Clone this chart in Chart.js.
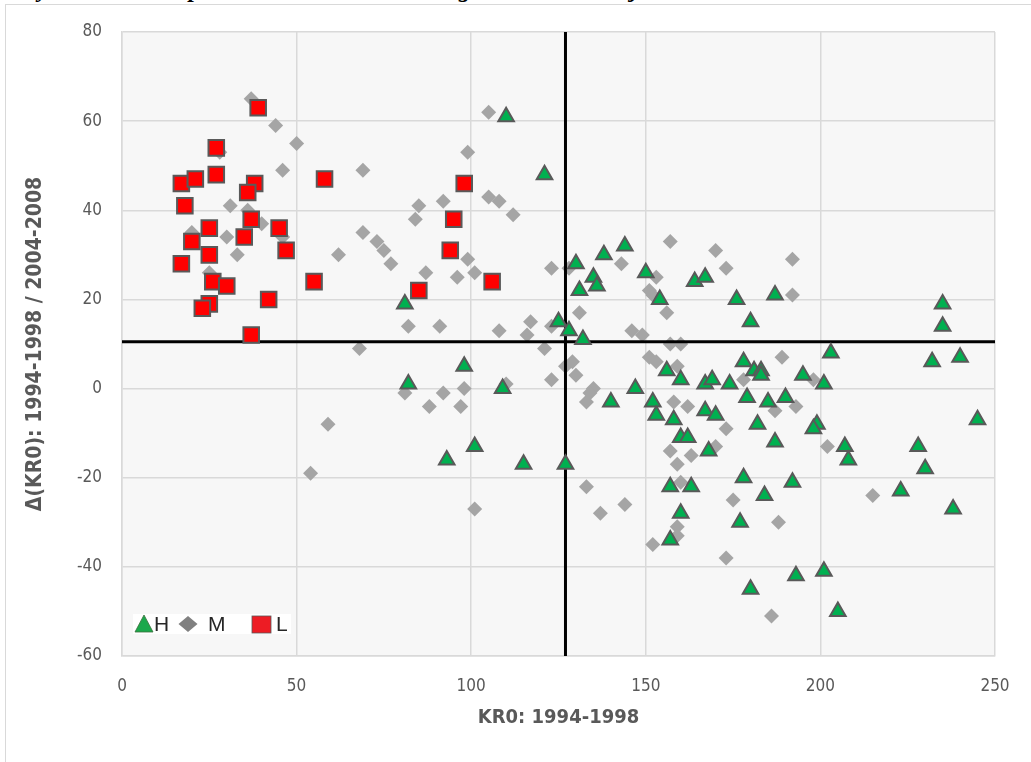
<!DOCTYPE html>
<html lang="en">
<head>
  <meta charset="UTF-8">
  <title>KR0 1994-1998 vs change 1994-1998 / 2004-2008</title>
  <script src="https://cdn.jsdelivr.net/npm/chart.js@4"></script>
  <style>
    body { margin: 0; width: 1031px; height: 762px; overflow: hidden; background: #fff; position: relative; }
    .frag { position: absolute; top: -23px; font: italic bold 24px/24px 'Liberation Serif', serif; color: #000; }
    #frame { position: absolute; left: 5px; top: 4px; width: 1100px; height: 800px; border: 1px solid #d9d9d9; background: #fff; }
    #wrap { position: absolute; left: 0; top: 0; width: 1031px; height: 762px; }
  </style>
</head>
<body>
  <!-- only the descenders of the caption above the chart are visible -->
  <span class="frag" style="left:38px">y</span>
  <span class="frag" style="left:189px">p</span>
  <span class="frag" style="left:459px">g</span>
  <span class="frag" style="left:631px">j</span>
  <div id="frame"></div>
  <div id="wrap"><canvas id="chart" width="1031" height="762"></canvas></div>

  <script>
    // x = KR0 1994-1998, y = change of KR0 between periods
    const hPoints = [
      [110,61],[121,48],[130,28],[138,30],[144,32],[135,25],[136,23],[131,22],[150,26],[154,20],
      [164,24],[167,25],[176,20],[180,15],[187,21],[81,19],[125,15],[128,13],[132,11],[98,5],
      [82,1],[109,0],[101,-13],[93,-16],[115,-17],[127,-17],[156,4],[160,2],[147,0],[140,-3],
      [152,-3],[153,-6],[158,-7],[167,1],[169,2],[174,1],[178,6],[181,4],[183,4],[183,3],
      [195,3],[201,1],[203,8],[235,19],[235,14],[232,6],[240,7],[179,-2],[185,-3],[190,-2],
      [167,-5],[170,-6],[160,-11],[162,-11],[168,-14],[182,-8],[199,-8],[198,-9],[245,-7],[187,-12],
      [207,-13],[208,-16],[228,-13],[230,-18],[157,-22],[163,-22],[178,-20],[192,-21],[184,-24],[223,-23],
      [238,-27],[160,-28],[177,-30],[157,-34],[193,-42],[201,-41],[180,-45],[205,-50]
    ];
    const mPoints = [
      [37,65],[44,59],[50,55],[46,49],[28,53],[69,49],[31,41],[36,40],[40,37],[20,35],
      [30,34],[46,34],[33,30],[25,26],[62,30],[69,35],[73,33],[75,31],[77,28],[85,41],
      [84,38],[82,14],[68,9],[105,62],[99,53],[92,42],[105,43],[108,42],[112,39],[87,26],
      [96,25],[99,29],[101,26],[123,27],[128,27],[143,28],[157,33],[153,25],[151,22],[152,21],
      [156,17],[91,14],[108,13],[117,15],[116,12],[123,14],[131,17],[146,13],[149,12],[157,10],
      [160,10],[121,9],[170,31],[173,27],[127,5],[129,6],[130,3],[123,2],[151,7],[153,6],
      [159,5],[135,0],[134,-1],[133,-3],[158,-3],[162,-4],[173,-9],[170,-13],[157,-14],[163,-15],
      [159,-17],[160,-21],[133,-22],[144,-26],[137,-28],[175,-25],[159,-31],[159,-33],[152,-35],[173,-38],
      [110,1],[81,-1],[92,-1],[98,0],[88,-4],[97,-4],[101,-27],[59,-8],[54,-19],[192,29],
      [192,21],[189,7],[178,2],[198,2],[187,-5],[193,-4],[202,-13],[215,-24],[188,-30],[186,-51]
    ];
    const lPoints = [
      [39,63],[27,54],[27,48],[17,46],[21,47],[38,46],[36,44],[58,47],[18,41],[37,38],
      [45,36],[25,36],[20,33],[35,34],[25,30],[47,31],[17,28],[26,24],[30,23],[55,24],
      [42,20],[25,19],[23,18],[37,12],[85,22],[98,46],[95,38],[94,31],[106,24]
    ];
    const meanX = 127;
    const meanY = 10.5;
    const xMin = 0, xMax = 250, xStep = 50;
    const yMin = -60, yMax = 80, yStep = 20;
    const legendItems = ['H', 'M', 'L'];

    const toXY = pts => pts.map(p => ({ x: p[0], y: p[1] }));
    const narrow = "'Liberation Sans Narrow', 'DejaVu Sans Condensed', sans-serif";

    const plotBg = {
      id: 'plotBg',
      beforeDraw(chart) {
        const { ctx, chartArea: a } = chart;
        ctx.save();
        ctx.fillStyle = '#f7f7f7';
        ctx.fillRect(a.left, a.top, a.width, a.height);
        ctx.restore();
      }
    };

    // legend box sitting inside the plot, bottom left
    const insideLegend = {
      id: 'insideLegend',
      afterDraw(chart) {
        const { ctx, chartArea: a } = chart;
        const x0 = a.left + 11, y0 = a.bottom - 42;
        const cy = y0 + 10;
        ctx.save();
        ctx.fillStyle = '#fff';
        ctx.fillRect(x0, y0, 158, 20);

        ctx.beginPath();
        ctx.moveTo(x0 + 11, y0 + 1);
        ctx.lineTo(x0 + 20, y0 + 18);
        ctx.lineTo(x0 + 2, y0 + 18);
        ctx.closePath();
        ctx.fillStyle = '#1ba84b';
        ctx.fill();
        ctx.strokeStyle = '#3c6e3c';
        ctx.lineWidth = 0.8;
        ctx.stroke();

        ctx.beginPath();
        ctx.moveTo(x0 + 55, y0 + 2);
        ctx.lineTo(x0 + 64.5, cy);
        ctx.lineTo(x0 + 55, y0 + 18);
        ctx.lineTo(x0 + 45.5, cy);
        ctx.closePath();
        ctx.fillStyle = '#808080';
        ctx.fill();

        ctx.fillStyle = '#ed1c24';
        ctx.fillRect(x0 + 119, y0 + 2, 19, 17);
        ctx.strokeStyle = '#595959';
        ctx.lineWidth = 0.8;
        ctx.strokeRect(x0 + 119, y0 + 2, 19, 17);

        ctx.fillStyle = '#262626';
        ctx.font = "21px 'Liberation Sans', sans-serif";
        ctx.textBaseline = 'middle';
        ctx.fillText(legendItems[0], x0 + 21, cy + 1);
        ctx.fillText(legendItems[1], x0 + 75, cy + 1);
        ctx.fillText(legendItems[2], x0 + 143, cy + 1);
        ctx.restore();
      }
    };

    new Chart(document.getElementById('chart'), {
      type: 'scatter',
      data: {
        datasets: [
          {
            label: 'H', data: toXY(hPoints), pointStyle: 'triangle', pointRadius: 9,
            backgroundColor: '#00b050', borderColor: '#595959', borderWidth: 2, order: 0
          },
          {
            label: 'L', data: toXY(lPoints), pointStyle: 'rect', pointRadius: 11,
            backgroundColor: '#ff0000', borderColor: '#595959', borderWidth: 2, order: 1
          },
          {
            label: 'meanX', type: 'line', data: [{ x: meanX, y: yMin }, { x: meanX, y: yMax }],
            borderColor: '#000', borderWidth: 3, pointRadius: 0, order: 2
          },
          {
            label: 'meanY', type: 'line', data: [{ x: xMin, y: meanY }, { x: xMax, y: meanY }],
            borderColor: '#000', borderWidth: 3, pointRadius: 0, order: 2
          },
          {
            label: 'M', data: toXY(mPoints), pointStyle: 'rectRot', pointRadius: 7.5,
            backgroundColor: '#a5a5a5', borderColor: '#a5a5a5', borderWidth: 0, order: 3
          }
        ]
      },
      options: {
        responsive: false,
        animation: false,
        layout: { padding: { top: 32, right: 36, left: 0, bottom: 0 } },
        plugins: { legend: { display: false }, tooltip: { enabled: false } },
        scales: {
          x: {
            type: 'linear', min: xMin, max: xMax,
            ticks: { stepSize: xStep, color: '#595959', font: { family: narrow, size: 17 }, padding: 20 },
            grid: { color: '#d9d9d9', lineWidth: 1.5, drawTicks: false },
            border: { display: true, color: '#d9d9d9', width: 1.5 },
            title: {
              display: true, text: 'KR0: 1994-1998', color: '#595959',
              font: { family: narrow, size: 20, weight: 'bold' }, padding: { top: 0, bottom: 32 }
            },
            afterFit(s) { s.height = 106; }
          },
          y: {
            type: 'linear', min: yMin, max: yMax,
            ticks: { stepSize: yStep, color: '#595959', font: { family: narrow, size: 17 }, padding: 20 },
            grid: { color: '#d9d9d9', lineWidth: 1.5, drawTicks: false },
            border: { display: true, color: '#d9d9d9', width: 1.5 },
            title: {
              display: true, text: 'Δ(KR0): 1994-1998 / 2004-2008', color: '#595959',
              font: { family: narrow, size: 21, weight: 'bold' }, padding: { top: 23, bottom: 0 }
            },
            afterFit(s) { s.width = 122; }
          }
        }
      },
      plugins: [plotBg, insideLegend]
    });
  </script>
</body>
</html>
